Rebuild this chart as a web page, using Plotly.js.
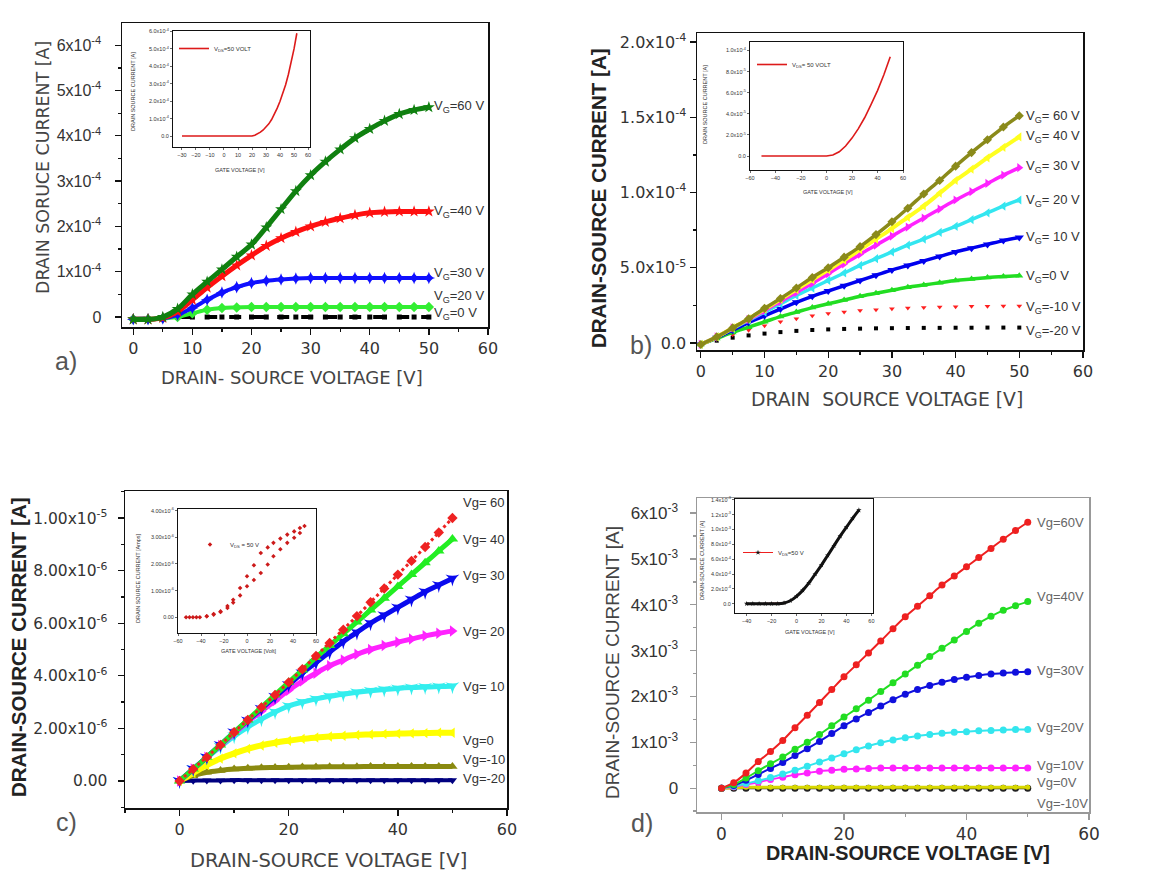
<!DOCTYPE html>
<html><head><meta charset="utf-8">
<script src="https://cdn.plot.ly/plotly-3.0.1.min.js"></script>
<style>html,body{margin:0;padding:0;background:#fff}#chart{width:1151px;height:875px}</style>
</head><body><div id="chart"></div>
<script>
// ---------- DATA ----------
const vds25 = [0,2.5,5,7.5,10,12.5,15,17.5,20,22.5,25,27.5,30,32.5,35,37.5,40,42.5,45,47.5,50];
const vds2 = [0,2,4,6,8,10,12,14,16,18,20,22,24,26,28,30,32,34,36,38,40,42,44,46,48,50];

// panel a, drain current in units of 1e-4 A
const a_vg60 = [-0.05,-0.05,0.0,0.18,0.5,0.78,1.05,1.33,1.6,1.98,2.38,2.78,3.13,3.43,3.7,3.95,4.15,4.33,4.48,4.57,4.63];
const a_vg40 = [-0.05,-0.05,-0.02,0.12,0.38,0.65,0.9,1.14,1.36,1.57,1.74,1.88,2.0,2.1,2.18,2.25,2.3,2.32,2.33,2.33,2.33];
const a_vg30 = [-0.05,-0.05,-0.03,0.05,0.2,0.38,0.54,0.66,0.75,0.8,0.83,0.85,0.86,0.86,0.86,0.86,0.86,0.86,0.86,0.86,0.86];
const a_vg20 = [-0.05,-0.05,-0.03,0.0,0.08,0.16,0.2,0.21,0.22,0.22,0.22,0.22,0.22,0.22,0.22,0.22,0.22,0.22,0.22,0.22,0.22];
const a_vg0  = [-0.04,-0.04,-0.02,0,0,0,0,0,0,0,0,0,0,0,0,0,0,0,0,0,0];

// panel b, units of 1e-5 A
const b_vg60 = [-0.1,0.4,1.0,1.6,2.3,2.95,3.65,4.35,5.0,5.7,6.4,7.2,8.05,8.95,9.9,10.8,11.75,12.65,13.5,14.35,15.1];
const b_vg40 = [-0.1,0.4,1.0,1.6,2.25,2.9,3.55,4.2,4.85,5.5,6.2,6.9,7.6,8.35,9.1,9.95,10.8,11.55,12.3,13.0,13.7];
const b_vg30 = [-0.1,0.4,1.0,1.55,2.15,2.75,3.35,3.95,4.6,5.25,5.9,6.5,7.1,7.7,8.3,8.9,9.5,10.05,10.6,11.15,11.65];
const b_vg20 = [-0.1,0.4,0.95,1.5,2.05,2.6,3.15,3.65,4.15,4.65,5.15,5.6,6.05,6.5,6.9,7.35,7.75,8.2,8.65,9.1,9.5];
const b_vg10 = [-0.1,0.35,0.85,1.35,1.8,2.25,2.7,3.1,3.45,3.8,4.15,4.5,4.85,5.15,5.45,5.75,6.05,6.3,6.55,6.8,7.0];
const b_vg0  = [-0.1,0.3,0.7,1.05,1.4,1.75,2.05,2.35,2.6,2.85,3.1,3.3,3.5,3.7,3.85,4.0,4.15,4.25,4.35,4.42,4.47];
const b_vgm10 = [-0.1,0.25,0.55,0.85,1.15,1.4,1.6,1.8,1.95,2.05,2.15,2.2,2.27,2.32,2.36,2.39,2.41,2.43,2.44,2.45,2.45];
const b_vgm20 = [-0.1,0.15,0.35,0.5,0.62,0.72,0.8,0.86,0.9,0.93,0.95,0.97,0.98,0.99,1.0,1.0,1.01,1.01,1.02,1.02,1.02];

// panel c, units of 1e-6 A
const c_vg60 = [0,0.45,0.9,1.37,1.85,2.32,2.8,3.27,3.75,4.25,4.75,5.25,5.75,6.27,6.8,7.32,7.85,8.37,8.9,9.45,10.0];
const c_vg40 = [0,0.45,0.9,1.37,1.85,2.32,2.8,3.27,3.75,4.22,4.7,5.15,5.6,6.05,6.5,6.95,7.4,7.85,8.3,8.75,9.2];
const c_vg30 = [0,0.45,0.9,1.37,1.85,2.3,2.75,3.2,3.65,4.1,4.5,4.9,5.3,5.65,6.0,6.3,6.6,6.9,7.2,7.45,7.7];
const c_vg20 = [0,0.45,0.9,1.35,1.8,2.25,2.65,3.05,3.45,3.8,4.1,4.38,4.6,4.82,5.0,5.15,5.28,5.4,5.52,5.62,5.7];
const c_vg10 = [0,0.45,0.88,1.3,1.7,2.05,2.35,2.62,2.85,3.0,3.12,3.22,3.3,3.37,3.43,3.48,3.52,3.55,3.57,3.59,3.6];
const c_vg0  = [0,0.3,0.6,0.85,1.05,1.22,1.35,1.45,1.53,1.6,1.65,1.69,1.72,1.75,1.77,1.79,1.8,1.81,1.82,1.83,1.83];
const c_vgm10 = [0,0.2,0.33,0.4,0.45,0.48,0.5,0.51,0.52,0.53,0.53,0.54,0.54,0.54,0.55,0.55,0.55,0.55,0.55,0.55,0.55];
const c_vgm20 = [0,0.01,0.02,0.02,0.03,0.03,0.03,0.03,0.03,0.03,0.03,0.03,0.03,0.03,0.03,0.03,0.03,0.03,0.03,0.03,0.03];

// panel d, units of 1e-3 A
const d_vg60 = [0,0.12,0.33,0.58,0.8,1.04,1.32,1.59,1.87,2.15,2.43,2.69,2.95,3.21,3.48,3.74,3.97,4.2,4.43,4.63,4.83,5.03,5.23,5.43,5.62,5.8];
const d_vg40 = [0,0.08,0.22,0.38,0.53,0.68,0.85,1.0,1.17,1.36,1.55,1.73,1.92,2.11,2.3,2.49,2.68,2.87,3.05,3.23,3.42,3.6,3.75,3.88,3.98,4.07];
const d_vg30 = [0,0.06,0.17,0.3,0.43,0.56,0.71,0.86,1.02,1.19,1.36,1.51,1.65,1.79,1.93,2.05,2.15,2.24,2.31,2.37,2.42,2.46,2.49,2.51,2.53,2.54];
const d_vg20 = [0,0.04,0.1,0.16,0.23,0.31,0.39,0.48,0.57,0.66,0.75,0.84,0.92,0.99,1.05,1.1,1.14,1.17,1.2,1.22,1.23,1.25,1.26,1.27,1.28,1.28];
const d_vg10 = [0,0.03,0.08,0.13,0.19,0.24,0.29,0.33,0.37,0.39,0.41,0.42,0.43,0.44,0.44,0.44,0.44,0.44,0.44,0.44,0.44,0.44,0.44,0.44,0.44,0.44];
const d_vg0  = [0,0.01,0.02,0.02,0.02,0.02,0.02,0.02,0.02,0.02,0.02,0.02,0.02,0.02,0.02,0.02,0.02,0.02,0.02,0.02,0.02,0.02,0.02,0.02,0.02,0.02];
const d_vgm10 = [0,0,0,0,0,0,0,0,0,0,0,0,0,0,0,0,0,0,0,0,0,0,0,0,0,0];

// insets (transfer curves, Vds = 50 V)
const inA_vg = [-30,-25,-20,-15,-10,-5,0,5,10,15,20,22,24,26,28,30,32,34,36,38,40,42,44,46,48,50,52];
const inA_id = [0,0,0,0,0,0,0,0,0,0,0,0.05,0.12,0.22,0.35,0.5,0.7,0.95,1.25,1.6,2.0,2.45,2.95,3.55,4.25,5.0,5.9];
const inB_vg = [-51,-40,-30,-20,-10,0,5,10,15,20,25,30,35,40,45,50];
const inB_id = [0,0,0,0,0,0,0.1,0.4,0.95,1.7,2.6,3.65,4.9,6.2,7.7,9.4];
const inC_vg = [-53,-50,-47,-44,-41,-35,-29,-23,-17,-12,-6,0,6,12,18,23,29,35,41,46,50,46,41,35,29,23,18,12,6,0,-6,-12,-17,-23,-29,-35];
const inC_id = [0,0,0,0,0,0.04,0.1,0.2,0.35,0.55,0.82,1.16,1.4,1.66,1.98,2.29,2.55,2.79,2.98,3.16,3.42,3.35,3.22,3.1,2.95,2.79,2.62,2.41,1.95,1.54,1.1,0.66,0.42,0.22,0.12,0.04];
const inD_vg = [-40,-35,-30,-25,-20,-15,-10,-5,0,5,10,15,20,25,30,35,40,45,50];
const inD_id = [0,0,0,0,0,0,0.1,0.4,1.0,1.8,2.8,4.0,5.2,6.5,7.8,9.1,10.3,11.5,12.6];

// tick labels
const a_yticks = ['0','1x10<sup>-4</sup>','2x10<sup>-4</sup>','3x10<sup>-4</sup>','4x10<sup>-4</sup>','5x10<sup>-4</sup>','6x10<sup>-4</sup>'];
const b_yticks = ['0.0','5.0x10<sup>-5</sup>','1.0x10<sup>-4</sup>','1.5x10<sup>-4</sup>','2.0x10<sup>-4</sup>'];
const c_yticks = ['0.00','2.00x10<sup>-6</sup>','4.00x10<sup>-6</sup>','6.00x10<sup>-6</sup>','8.00x10<sup>-6</sup>','1.00x10<sup>-5</sup>'];
const d_yticks = ['0','1x10<sup>-3</sup>','2x10<sup>-3</sup>','3x10<sup>-3</sup>','4x10<sup>-3</sup>','5x10<sup>-3</sup>','6x10<sup>-3</sup>'];
const inA_yticks = ['0.0','1.0x10<sup>-4</sup>','2.0x10<sup>-4</sup>','3.0x10<sup>-4</sup>','4.0x10<sup>-4</sup>','5.0x10<sup>-4</sup>','6.0x10<sup>-4</sup>'];
const inB_yticks = ['0.0','2.0x10<sup>-5</sup>','4.0x10<sup>-5</sup>','6.0x10<sup>-5</sup>','8.0x10<sup>-5</sup>','1.0x10<sup>-4</sup>'];
const inC_yticks = ['0.00','1.00x10<sup>-6</sup>','2.00x10<sup>-6</sup>','3.00x10<sup>-6</sup>','4.00x10<sup>-6</sup>'];
const inD_yticks = ['0.0','2.0x10<sup>-4</sup>','4.0x10<sup>-4</sup>','6.0x10<sup>-4</sup>','8.0x10<sup>-4</sup>','1.0x10<sup>-3</sup>','1.2x10<sup>-3</sup>','1.4x10<sup>-3</sup>'];

// ---------- HELPERS ----------
const W = 1151, H = 875;
const FT = 'DejaVu Sans, sans-serif';
const FL = 'Liberation Sans, Arial, sans-serif';
const dx = (a,b) => [a/W, b/W];
const dy = (a,b) => [1-b/H, 1-a/H];
const px = v => v/W, py = v => 1-v/H;
const sc = (arr, s) => arr.map(v => v*s);

function ser(x, y, s, xa, ya, color, sym, size, lw, extra) {
  const t = {x:x, y:sc(y,s), xaxis:xa, yaxis:ya, type:'scatter', showlegend:false,
    mode: lw>0 ? 'lines+markers' : 'markers',
    line:{color:color, width:lw, shape:'spline'},
    marker:{color:color, symbol:sym, size:size, line:{width:0}}, hoverinfo:'skip'};
  return Object.assign(t, extra||{});
}

function mainX(dom, range, dtick, mdt, font, lc) {
  return {domain:dom, range:range, tickmode:'linear', tick0:0, dtick:dtick,
    ticks:'outside', ticklen:6, tickwidth:1.3, tickcolor:lc, showline:true, linecolor:lc,
    linewidth:1.5, mirror:true, showgrid:false, zeroline:false, tickfont:font,
    minor:{tickmode:'linear', tick0:0, dtick:mdt, ticks:'outside', ticklen:3, tickcolor:lc, showgrid:false}};
}
function mainY(dom, range, vals, text, mdt, font, lc, standoff) {
  return {domain:dom, range:range, tickmode:'array', tickvals:vals, ticktext:text,
    ticks:'outside', ticklen:6, tickwidth:1.3, tickcolor:lc, showline:true, linecolor:lc,
    linewidth:1.5, mirror:true, showgrid:false, zeroline:false, tickfont:font, ticklabelstandoff:standoff||0,
    minor:{tickmode:'linear', tick0:0, dtick:mdt, ticks:'outside', ticklen:3, tickcolor:lc, showgrid:false}};
}
const insFont = {family:FL, size:5.5, color:'#333'};
function insX(dom, range, dtick) {
  return {domain:dom, range:range, tickmode:'linear', tick0:0, dtick:dtick, ticks:'outside', ticklen:2,
    tickwidth:0.8, showline:true, linecolor:'#111', linewidth:1, mirror:true, showgrid:false, zeroline:false,
    tickfont:insFont};
}
function insY(dom, range, vals, text) {
  return {domain:dom, range:range, tickmode:'array', tickvals:vals, ticktext:text, ticks:'outside', ticklen:2,
    tickwidth:0.8, showline:true, linecolor:'#111', linewidth:1, mirror:true, showgrid:false, zeroline:false,
    tickfont:insFont};
}

// ---------- TRACES ----------
const traces = [];
// a
traces.push(ser(vds25, a_vg0, 1e-4, 'x', 'y', '#000000', 'square', 5, 4, {line:{color:'#000',width:4,dash:'dash'}}));
traces.push(ser(vds25, a_vg20, 1e-4, 'x', 'y', '#33ee33', 'diamond', 8, 4));
traces.push(ser(vds25, a_vg30, 1e-4, 'x', 'y', '#1010ff', 'star-diamond', 9, 4));
traces.push(ser(vds25, a_vg40, 1e-4, 'x', 'y', '#ff1010', 'star', 9, 5));
traces.push(ser(vds25, a_vg60, 1e-4, 'x', 'y', '#108010', 'star', 9, 5));
// b
traces.push(ser(vds25, b_vgm20, 1e-5, 'x2', 'y2', '#000000', 'square', 4, 0));
traces.push(ser(vds25, b_vgm10, 1e-5, 'x2', 'y2', '#ff2020', 'triangle-down', 5, 0));
traces.push(ser(vds25, b_vg0, 1e-5, 'x2', 'y2', '#22dd22', 'triangle-up', 7, 3.5));
traces.push(ser(vds25, b_vg10, 1e-5, 'x2', 'y2', '#0000ee', 'triangle-down', 8, 3.5));
traces.push(ser(vds25, b_vg20, 1e-5, 'x2', 'y2', '#33e6f0', 'triangle-left', 8, 3.5));
traces.push(ser(vds25, b_vg30, 1e-5, 'x2', 'y2', '#ff22ff', 'triangle-right', 8, 3.5));
traces.push(ser(vds25, b_vg40, 1e-5, 'x2', 'y2', '#ffff20', 'triangle-left', 8, 4));
traces.push(ser(vds25, b_vg60, 1e-5, 'x2', 'y2', '#8a8a1a', 'diamond', 7, 3.5));
// c
traces.push(ser(vds25, c_vgm20, 1e-6, 'x3', 'y3', '#000080', 'triangle-down', 8, 4));
traces.push(ser(vds25, c_vgm10, 1e-6, 'x3', 'y3', '#8a8a10', 'triangle-up', 9, 5));
traces.push(ser(vds25, c_vg0, 1e-6, 'x3', 'y3', '#ffff00', 'triangle-left', 9, 6));
traces.push(ser(vds25, c_vg10, 1e-6, 'x3', 'y3', '#33eeee', 'star-triangle-down', 10, 5));
traces.push(ser(vds25, c_vg20, 1e-6, 'x3', 'y3', '#ff22ff', 'triangle-right', 10, 5));
traces.push(ser(vds25, c_vg30, 1e-6, 'x3', 'y3', '#0a0aee', 'star-triangle-down', 10, 5));
traces.push(ser(vds25, c_vg40, 1e-6, 'x3', 'y3', '#22ee22', 'triangle-up', 10, 5));
traces.push(ser(vds25, c_vg60, 1e-6, 'x3', 'y3', '#ee2222', 'diamond', 8, 3, {line:{color:'#ee2222',width:3,dash:'dot'}}));
// d
traces.push(ser(vds2, d_vgm10, 1e-3, 'x4', 'y4', '#222222', 'circle', 7, 2));
traces.push(ser(vds2, d_vg0, 1e-3, 'x4', 'y4', '#d8d800', 'circle', 5, 3));
traces.push(ser(vds2, d_vg10, 1e-3, 'x4', 'y4', '#ff22ff', 'circle', 7, 2));
traces.push(ser(vds2, d_vg20, 1e-3, 'x4', 'y4', '#33e6ee', 'circle', 7, 2));
traces.push(ser(vds2, d_vg30, 1e-3, 'x4', 'y4', '#1010dd', 'circle', 7, 2));
traces.push(ser(vds2, d_vg40, 1e-3, 'x4', 'y4', '#22dd22', 'circle', 7, 2));
traces.push(ser(vds2, d_vg60, 1e-3, 'x4', 'y4', '#ee2020', 'circle', 7, 2));
// insets
traces.push({x:inA_vg, y:inA_id, xaxis:'x5', yaxis:'y5', type:'scatter', mode:'lines', name:'V<sub>DS</sub>=50 VOLT',
  line:{color:'#dd1a1a', width:1.6}, legend:'legend', showlegend:true, hoverinfo:'skip'});
traces.push({x:inB_vg, y:inB_id, xaxis:'x6', yaxis:'y6', type:'scatter', mode:'lines', name:'V<sub>DS</sub>= 50 VOLT',
  line:{color:'#dd1a1a', width:1.6}, legend:'legend2', showlegend:true, hoverinfo:'skip'});
traces.push({x:inC_vg, y:inC_id, xaxis:'x7', yaxis:'y7', type:'scatter', mode:'markers', name:'V<sub>DS</sub> = 50 V',
  marker:{color:'#cc1a1a', symbol:'diamond', size:3.5}, legend:'legend3', showlegend:true, hoverinfo:'skip'});
traces.push({x:inD_vg, y:inD_id, xaxis:'x8', yaxis:'y8', type:'scatter', mode:'lines+markers', name:'V<sub>DS</sub>=50 V',
  line:{color:'#ee2020', width:1}, marker:{color:'#111', symbol:'star', size:4}, legend:'legend4', showlegend:true, hoverinfo:'skip'});
traces.push({x:inD_vg, y:inD_id, xaxis:'x8', yaxis:'y8', type:'scatter', mode:'lines', showlegend:false,
  line:{color:'#111', width:3, shape:'spline'}, hoverinfo:'skip'});

// ---------- LAYOUT ----------
const tickT = {family:FT, size:16, color:'#333'};
const tickL = {family:FL, size:16, color:'#333'};
const boldF = {family:FL, size:20.5, color:'#222', weight:'bold'};

const ann = [];
function title(x, y, text, font, angle) {
  ann.push({xref:'paper', yref:'paper', x:px(x), y:py(y), xanchor:'center', yanchor:'middle',
    text:text, showarrow:false, font:font, textangle:angle||0});
}
title(292, 377, 'DRAIN- SOURCE VOLTAGE [V]', {family:FT, size:18, color:'#444'});
title(43, 168, 'DRAIN SORUCE CURRENT [A]', {family:FT, size:17.4, color:'#444'}, -90);
title(887, 400, 'DRAIN\u00a0 SOURCE VOLTAGE [V]', {family:FT, size:18.8, color:'#444'});
title(598, 198, 'DRAIN-SOURCE CURRENT [A]', boldF, -90);
title(328, 860, 'DRAIN-SOURCE VOLTAGE [V]', {family:FT, size:19.5, color:'#444'});
title(18, 647, 'DRAIN-SOURCE CURRENT [A]', boldF, -90);
title(908, 853, 'DRAIN-SOURCE VOLTAGE [V]', {family:FL, size:19.8, color:'#222', weight:'bold'});
title(612, 663, 'DRAIN-SOURCE CURRENT [A]', {family:FL, size:19, color:'#444'}, -90);
// panel letters
const letF = {family:FL, size:25, color:'#555'};
title(66, 361, 'a)', letF); title(641, 345, 'b)', letF); title(66, 822, 'c)', letF); title(642, 823, 'd)', letF);
// inset axis titles
const insT = {family:FL, size:5.5, color:'#333'};
title(240, 170, 'GATE VOLTAGE [V]', insT);
title(133, 92, 'DRAIN SOURCE CURRENT [A]', insT, -90);
title(828, 192, 'GATE VOLTAGE [V]', insT);
title(705, 105, 'DRAIN SOURCE CURRENT [A]', insT, -90);
title(248, 651, 'GATE VOLTAGE [Volt]', insT);
title(138, 578, 'DRAIN SOURCE CURRENT [Amps]', insT, -90);
title(810, 632, 'GATE VOLTAGE [V]', insT);
title(702, 560, 'DRAIN-SOURCE CURRENT [A]', insT, -90);

// curve labels
const labF = {family:FL, size:13, color:'#333'};
function lab(xa, ya, x, y, text, font) {
  ann.push({xref:xa, yref:ya, x:x, y:y, text:text, showarrow:false, xanchor:'left', yanchor:'middle', font:font||labF});
}
const aLab = [['V<sub>G</sub>=60 V',4.64],['V<sub>G</sub>=40 V',2.33],['V<sub>G</sub>=30 V',0.97],['V<sub>G</sub>=20 V',0.45],['V<sub>G</sub>=0 V',0.08]];
aLab.forEach(l => lab('x','y',50.6,l[1]*1e-4,l[0]));
const bLab = [['V<sub>G</sub>= 60 V',15.06],['V<sub>G</sub>= 40 V',13.7],['V<sub>G</sub>= 30 V',11.7],['V<sub>G</sub>= 20 V',9.5],['V<sub>G</sub>= 10 V',6.98],['V<sub>G</sub>=0 V',4.43],['V<sub>G</sub>=-10 V',2.33],['V<sub>G</sub>=-20 V',0.78]];
bLab.forEach(l => lab('x2','y2',50.8,l[1]*1e-5,l[0]));
const cLab = [['Vg= 60',10.6],['Vg= 40',9.2],['Vg= 30',7.8],['Vg= 20',5.7],['Vg= 10',3.6],['Vg=0',1.53],['Vg=-10',0.82],['Vg=-20',0.1]];
cLab.forEach(l => lab('x3','y3',51.5,l[1]*1e-6,l[0]));
const dLab = [['Vg=60V',5.8],['Vg=40V',4.18],['Vg=30V',2.56],['Vg=20V',1.33],['Vg=10V',0.5],['Vg=0V',0.13],['Vg=-10V',-0.34]];
dLab.forEach(l => lab('x4','y4',51.2,l[1]*1e-3,l[0],{family:FL, size:13, color:'#666'}));

const legBase = {bgcolor:'rgba(0,0,0,0)', font:{family:FL, size:6, color:'#333'}, xanchor:'left', yanchor:'top', itemwidth:30, borderwidth:0};
const layout = {
  width:W, height:H, margin:{l:0,r:0,t:0,b:0}, paper_bgcolor:'#fff', plot_bgcolor:'#fff',
  showlegend:true,
  xaxis: Object.assign(mainX(dx(122,488), [-1.9,60], 10, 5, tickT, '#111'), {anchor:'y'}),
  yaxis: Object.assign(mainY(dy(23,327), [-0.22e-4,6.49e-4], [0,1e-4,2e-4,3e-4,4e-4,5e-4,6e-4], a_yticks, 0.5e-4, tickL, '#111', 10), {anchor:'x'}),
  xaxis2: Object.assign(mainX(dx(697,1083), [-0.6,60], 10, 5, tickT, '#111'), {anchor:'y2'}),
  yaxis2: Object.assign(mainY(dy(33,350), [-0.047e-4,2.06e-4], [0,0.5e-4,1e-4,1.5e-4,2e-4], b_yticks, 0.25e-4, tickT, '#111', 0), {anchor:'x2'}),
  xaxis3: Object.assign(mainX(dx(125,507), [-10,60], 20, 10, tickT, '#111'), {anchor:'y3'}),
  yaxis3: Object.assign(mainY(dy(491,808), [-1.03e-6,1.103e-5], [0,2e-6,4e-6,6e-6,8e-6,1e-5], c_yticks, 1e-6, {family:FT,size:15.5,color:'#333'}, '#111', 7), {anchor:'x3'}),
  xaxis4: Object.assign(mainX(dx(697,1089), [-4,60], 20, 10, {family:FT,size:17,color:'#333'}, '#999'), {anchor:'y4'}),
  yaxis4: Object.assign(mainY(dy(498,812), [-0.52e-3,6.33e-3], [0,1e-3,2e-3,3e-3,4e-3,5e-3,6e-3], d_yticks, 0.5e-3, {family:FL,size:17,color:'#333'}, '#999', 8), {anchor:'x4'}),
  xaxis5: Object.assign(insX(dx(173,310), [-36.4,61.4], 10), {anchor:'y5'}),
  yaxis5: Object.assign(insY(dy(31,147), [-0.63,6.03], [0,1,2,3,4,5,6], inA_yticks), {anchor:'x5'}),
  xaxis6: Object.assign(insX(dx(750,903), [-60,60], 20), {anchor:'y6'}),
  yaxis6: Object.assign(insY(dy(42,170), [-1.32,10.8], [0,2,4,6,8,10], inB_yticks), {anchor:'x6'}),
  xaxis7: Object.assign(insX(dx(178,316), [-60,60], 20), {anchor:'y7'}),
  yaxis7: Object.assign(insY(dy(509,633), [-0.59,4.06], [0,1,2,3,4], inC_yticks), {anchor:'x7'}),
  xaxis8: Object.assign(insX(dx(735,873), [-49.3,61.3], 20), {anchor:'y8'}),
  yaxis8: Object.assign(insY(dy(499,613), [-1.25,14.1], [0,2,4,6,8,10,12,14], inD_yticks), {anchor:'x8'}),
  legend: Object.assign({x:px(174), y:py(34)}, legBase),
  legend2: Object.assign({x:px(752), y:py(50)}, legBase),
  legend3: Object.assign({x:px(190), y:py(530)}, legBase),
  legend4: Object.assign({x:px(738), y:py(538)}, legBase),
  annotations: ann
};

Plotly.newPlot('chart', traces, layout, {displayModeBar:false, staticPlot:true});
</script>
</body></html>
